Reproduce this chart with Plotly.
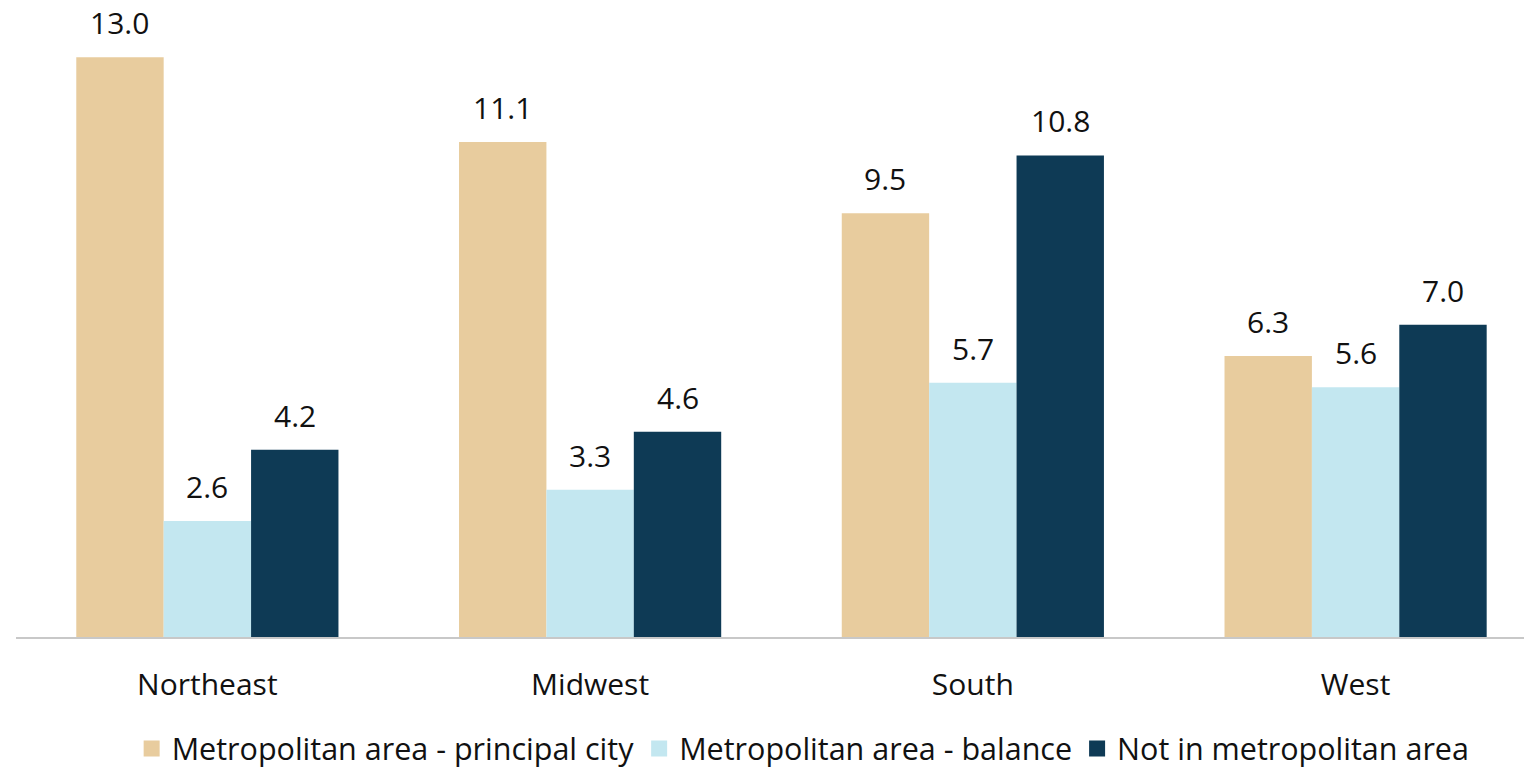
import plotly.graph_objects as go

regions = ["Northeast", "Midwest", "South", "West"]
principal_city = [13.0, 11.1, 9.5, 6.3]
metro_balance = [2.6, 3.3, 5.7, 5.6]
non_metro = [4.2, 4.6, 10.8, 7.0]

series = [
    ("Metropolitan area - principal city", principal_city, "#E8CC9E"),
    ("Metropolitan area - balance", metro_balance, "#C3E7F0"),
    ("Not in metropolitan area", non_metro, "#0E3A55"),
]

FONT = "Open Sans, Noto Sans, sans-serif"
BARGAP = 0.315
X_RANGE = [-0.5, 3.44]
MARGIN_L, MARGIN_R, MARGIN_T, MARGIN_B = 16, 0, 2, 134
WIDTH, HEIGHT = 1524, 771

# pixel width of one bar, used to place value labels over each bar of a group
px_per_cat = (WIDTH - MARGIN_L - MARGIN_R) / (X_RANGE[1] - X_RANGE[0])
bar_px = px_per_cat * (1 - BARGAP) / len(series)

fig = go.Figure()
for i, (name, vals, color) in enumerate(series):
    fig.add_trace(go.Bar(
        name=name, x=regions, y=vals, marker_color=color,
        marker_line_width=0, showlegend=False,
    ))
    # legend entry with a larger square swatch
    fig.add_trace(go.Scatter(
        name=name, x=[None], y=[None], mode="markers",
        marker=dict(symbol="square", size=16, color=color),
        showlegend=True,
    ))
    shift = (i - (len(series) - 1) / 2) * bar_px
    for region, v in zip(regions, vals):
        fig.add_annotation(
            x=region, y=v, xref="x", yref="y", text=f"{v:.1f}",
            showarrow=False, xshift=shift, yanchor="bottom", yshift=12,
            font=dict(size=30, color="#111111", family=FONT),
        )

fig.update_layout(
    width=WIDTH, height=HEIGHT,
    margin=dict(l=MARGIN_L, r=MARGIN_R, t=MARGIN_T, b=MARGIN_B),
    paper_bgcolor="white", plot_bgcolor="white",
    barmode="group", bargap=BARGAP, bargroupgap=0,
    font=dict(family=FONT, size=30, color="#111111"),
    legend=dict(orientation="h", xref="container", x=0.527, xanchor="center",
                yref="container", y=0.029, yanchor="middle",
                font=dict(size=30.5), traceorder="normal", itemwidth=30),
    showlegend=True,
)
fig.update_xaxes(range=X_RANGE, showline=True, linecolor="#C8C8C8", linewidth=2,
                 ticks="", ticklabelstandoff=20, tickfont=dict(size=30))
fig.update_yaxes(range=[0, 14.24], visible=False, showgrid=False)
fig.write_html("out.html")
